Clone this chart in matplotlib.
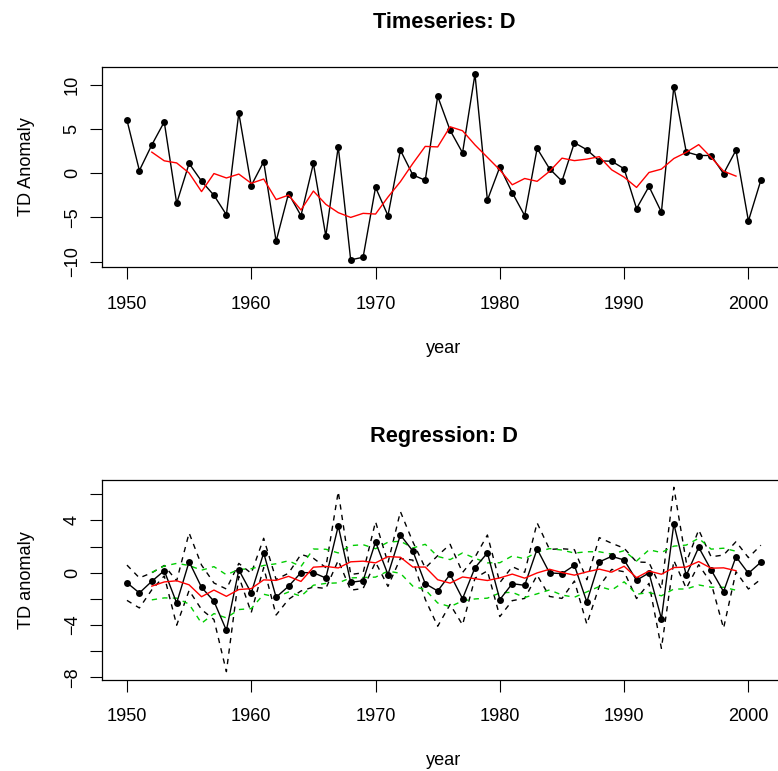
import numpy as np
import matplotlib.pyplot as plt

plt.rcParams['font.family'] = ['Liberation Sans', 'DejaVu Sans']

years = np.arange(1950, 2002)
ma_years = np.arange(1952, 2000)

# TD anomaly, 1950-2001
td = [6.0, 0.3, 3.2, 5.8, -3.4, 1.1, -0.9, -2.5, -4.7, 6.8,
      -1.4, 1.3, -7.7, -2.3, -4.8, 1.1, -7.1, 3.0, -9.8, -9.5,
      -1.6, -4.8, 2.6, -0.2, -0.8, 8.7, 4.85, 2.3, 11.2, -3.05,
      0.7, -2.2, -4.8, 2.8, 0.5, -0.9, 3.45, 2.65, 1.4, 1.35,
      0.5, -4.0, -1.5, -4.4, 9.8, 2.4, 2.0, 2.0, -0.05, 2.6,
      -5.4, -0.8]
# 5 year running mean, 1952-1999
td_ma = [2.38, 1.40, 1.16, 0.02, -2.08, -0.04, -0.54, -0.10, -1.14, -0.66,
         -2.98, -2.48, -4.16, -2.02, -3.52, -4.46, -5.00, -4.54, -4.62, -2.70,
         -0.96, 1.10, 3.03, 2.97, 5.25, 4.80, 3.20, 1.79, 0.37, -1.31,
         -0.60, -0.92, 0.21, 1.70, 1.42, 1.59, 1.87, 0.38, -0.45, -1.61,
         0.08, 0.46, 1.66, 2.36, 3.23, 1.79, 0.23, -0.33]

# regression fit with upper / lower limits
reg = [-0.77, -1.55, -0.66, 0.15, -2.32, 0.84, -1.12, -2.19, -4.41, 0.21,
       -1.55, 1.51, -1.88, -1.04, 0.0, 0.0, -0.41, 3.57, -0.74, -0.61,
       2.35, -0.15, 2.88, 1.66, -0.84, -1.40, -0.13, -1.99, 0.38, 1.51,
       -2.06, -0.84, -0.97, 1.81, -0.02, -0.07, 0.56, -2.24, 0.82, 1.25,
       0.97, -0.58, -0.02, -3.52, 3.73, -0.2, 1.94, 0.21, -1.45, 1.22,
       -0.05, 0.80]
reg_up = [0.58, -0.40, -0.01, 0.55, -0.62, 3.04, 0.58, -0.79, -1.25, 0.71,
          -0.05, 2.63, -0.52, -0.04, 1.40, 1.10, 0.39, 6.20, -0.14, -0.01,
          3.90, 0.75, 4.67, 2.36, 0.36, 1.30, 2.17, 0.01, 1.18, 2.88,
          -0.76, 0.46, 0.03, 3.81, 1.78, 1.83, 1.76, -0.54, 2.68, 2.25,
          1.87, 0.82, 0.78, -1.25, 6.53, 0.80, 3.27, 1.21, 1.35, 2.37,
          1.15, 2.10]
reg_lo = [-2.12, -2.70, -1.31, -0.25, -4.02, -1.36, -2.82, -3.59, -7.57, -0.29,
          -3.05, 0.39, -3.24, -2.04, -1.40, -1.10, -1.21, 0.94, -1.34, -1.21,
          0.80, -1.05, 1.09, 0.96, -2.04, -4.10, -2.43, -3.99, -0.42, 0.14,
          -3.36, -2.14, -1.97, -0.19, -1.82, -1.97, -0.64, -3.94, -1.04, 0.25,
          0.07, -1.98, -0.82, -5.79, 0.93, -1.20, 0.61, -0.79, -4.25, 0.07,
          -1.25, -0.50]
reg_ma = [-1.03, -0.71, -0.62, -0.93, -1.84, -1.33, -1.81, -1.29, -1.22, -0.55,
          -0.59, -0.28, -0.67, 0.42, 0.48, 0.36, 0.83, 0.88, 0.75, 1.23,
          1.18, 0.43, 0.43, -0.54, -0.80, -0.33, -0.46, -0.60, -0.40, -0.11,
          -0.42, -0.02, 0.26, 0.01, -0.19, 0.06, 0.27, 0.04, 0.49, -0.38,
          0.12, -0.12, 0.39, 0.43, 0.85, 0.34, 0.37, 0.15]
reg_ma_up = [0.02, 0.51, 0.71, 0.55, 0.19, 0.46, -0.16, 0.25, 0.30, 0.55,
             0.68, 0.91, 0.47, 1.81, 1.79, 1.51, 2.07, 2.14, 1.83, 2.33,
             2.41, 1.89, 2.17, 1.24, 1.00, 1.51, 1.10, 0.75, 0.76, 1.28,
             1.06, 1.58, 1.84, 1.73, 1.50, 1.60, 1.60, 1.42, 1.68, 0.89,
             1.75, 1.54, 2.03, 2.11, 2.63, 1.80, 1.87, 1.64]
reg_ma_lo = [-2.08, -1.93, -1.95, -2.41, -3.87, -3.13, -3.46, -2.82, -2.75, -1.65,
             -1.87, -1.48, -1.80, -0.96, -0.82, -0.78, -0.40, -0.37, -0.34, 0.12,
             -0.05, -1.03, -1.30, -2.32, -2.60, -2.16, -2.01, -1.95, -1.55, -1.50,
             -1.90, -1.62, -1.32, -1.71, -1.88, -1.47, -1.06, -1.33, -0.70, -1.65,
             -1.52, -1.77, -1.25, -1.25, -0.94, -1.11, -1.12, -1.34]

W, H = 778, 771
fig = plt.figure(figsize=(W / 100, H / 100), dpi=100)
ax1 = fig.add_axes([101.6 / W, 1 - 267.3 / H, 684.6 / W, 200.6 / H])
ax2 = fig.add_axes([101.6 / W, 1 - 680.0 / H, 684.6 / W, 199.5 / H])

dash = (0, (3.8, 3.8))

ax1.plot(years, td, color='black', lw=1.0, marker='o', ms=5, mew=0)
ax1.plot(ma_years, td_ma, color='red', lw=1.0)
ax1.set_ylim(-10.64, 12.04)
ax1.set_yticks([-10, -5, 0, 5, 10])
ax1.set_title('Timeseries: D', fontsize=15.7, fontweight='bold', pad=28)
ax1.set_ylabel('TD Anomaly', fontsize=13.1, labelpad=21)

ax2.plot(years, reg_up, color='black', lw=1.0, ls=dash)
ax2.plot(years, reg_lo, color='black', lw=1.0, ls=dash)
ax2.plot(ma_years, reg_ma_up, color='#00cd00', lw=1.0, ls=dash)
ax2.plot(ma_years, reg_ma_lo, color='#00cd00', lw=1.0, ls=dash)
ax2.plot(years, reg, color='black', lw=1.0, marker='o', ms=5, mew=0)
ax2.plot(ma_years, reg_ma, color='red', lw=1.0)
ax2.set_ylim(-8.21, 7.05)
ax2.set_yticks([-8, -6, -4, -2, 0, 2, 4, 6])
ax2.set_yticklabels(['\u22128', '', '\u22124', '', '0', '', '4', ''])
ax2.set_title('Regression: D', fontsize=15.7, fontweight='bold', pad=28)
ax2.set_ylabel('TD anomaly', fontsize=13.1, labelpad=21)

for ax in (ax1, ax2):
    ax.set_xlim(1947.96, 2003.04)
    ax.set_xticks([1950, 1960, 1970, 1980, 1990, 2000])
    ax.set_xlabel('year', fontsize=13.1, labelpad=19.5)
    ax.tick_params(direction='out', length=8.4, width=0.8, labelsize=13.1)
    ax.tick_params(axis='x', pad=12)
    ax.tick_params(axis='y', pad=6.6)
    plt.setp(ax.get_yticklabels(), rotation=90, va='center', ha='right')
    for s in ax.spines.values():
        s.set_linewidth(0.9)

fig.savefig('out.png', dpi=100)
